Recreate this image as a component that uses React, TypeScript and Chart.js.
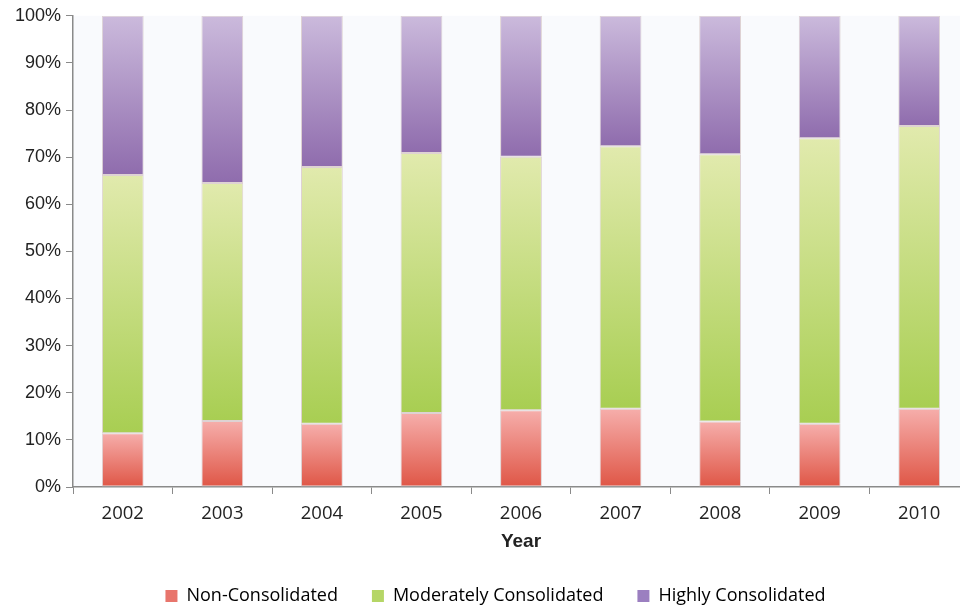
import React, { useEffect, useRef } from "react";
import { Chart, registerables } from "chart.js";

Chart.register(...registerables);

const years = ["2002", "2003", "2004", "2005", "2006", "2007", "2008", "2009", "2010"];
const nonConsolidated = [11.4, 14.0, 13.4, 15.7, 16.3, 16.6, 13.9, 13.4, 16.6];
const moderatelyConsolidated = [54.8, 50.5, 54.5, 55.2, 53.8, 55.7, 56.7, 60.6, 60.0];
const highlyConsolidated = [33.8, 35.5, 32.1, 29.1, 29.9, 27.7, 29.4, 26.0, 23.4];
const seriesNames = ["Non-Consolidated", "Moderately Consolidated", "Highly Consolidated"];
const yTicks = [0, 10, 20, 30, 40, 50, 60, 70, 80, 90, 100];

const allSeries = [nonConsolidated, moderatelyConsolidated, highlyConsolidated];
const gradTop = ["#f6aeab", "#e1eaad", "#cbbadc"];
const gradBottom = ["#df5646", "#a8ce52", "#8f6cad"];
const legendColors = ["#e8756c", "#b5d666", "#9b7fc0"];

function makeBg(si: number) {
  return (ctx: any) => {
    const chart = ctx.chart;
    const area = chart.chartArea;
    const y = chart.scales && chart.scales.y;
    if (!area || !y || ctx.dataIndex === undefined) return legendColors[si];
    const i = ctx.dataIndex;
    let bottom = 0;
    for (let k = 0; k < si; k++) bottom += allSeries[k][i];
    const top = bottom + allSeries[si][i];
    const y0 = y.getPixelForValue(bottom);
    const y1 = y.getPixelForValue(top);
    if (!isFinite(y0) || !isFinite(y1) || y0 === y1) return legendColors[si];
    const g = chart.ctx.createLinearGradient(0, y1, 0, y0);
    g.addColorStop(0, gradTop[si]);
    g.addColorStop(1, gradBottom[si]);
    return g;
  };
}

const plotBg = {
  id: "plotBg",
  beforeDraw(chart: any) {
    const { ctx, chartArea } = chart;
    if (!chartArea) return;
    ctx.save();
    ctx.fillStyle = "#f9fafd";
    ctx.fillRect(chartArea.left, chartArea.top, chartArea.right - chartArea.left, chartArea.bottom - chartArea.top);
    ctx.restore();
  },
};

const legendShift = {
  id: "legendShift",
  afterLayout(chart: any) {
    const lg = chart.legend;
    if (!lg) return;
    lg.left += 11;
    lg.right += 11;
  },
};

export default function App() {
  const ref = useRef<HTMLCanvasElement | null>(null);
  useEffect(() => {
    if (!ref.current) return;
    const chart = new Chart(ref.current, {
      type: "bar",
      data: {
        labels: years,
        datasets: allSeries.map((d, si) => ({
          label: seriesNames[si],
          data: d,
          backgroundColor: makeBg(si),
          borderColor: "rgba(215,200,200,0.8)",
          borderWidth: 1,
          borderSkipped: false,
          barPercentage: 0.42,
          categoryPercentage: 1,
        })),
      },
      options: {
        animation: false,
        responsive: true,
        maintainAspectRatio: false,
        layout: { padding: { left: 0, right: 21, top: 15, bottom: 0 } },
        plugins: {
          tooltip: { enabled: false },
          legend: {
            position: "bottom",
            maxHeight: 56,
            labels: {
              font: { family: "Open Sans", size: 18 },
              color: "#222",
              boxWidth: 12,
              boxHeight: 12,
              padding: 34,
              generateLabels: () =>
                seriesNames.map((n, si) => ({
                  text: n,
                  fillStyle: legendColors[si],
                  strokeStyle: legendColors[si],
                  lineWidth: 0,
                  hidden: false,
                  datasetIndex: si,
                })),
            },
          },
        },
        scales: {
          x: {
            stacked: true,
            border: { display: true, color: "#8a8a8a", width: 1.5 },
            grid: { display: true, drawOnChartArea: false, drawTicks: true, tickLength: 7, color: "#8a8a8a", offset: true },
            ticks: { font: { family: "Open Sans", size: 18.5 }, color: "#222", padding: 9 },
            title: { display: true, text: "Year", font: { family: "Liberation Sans", size: 19, weight: "bold" }, color: "#222", padding: { top: 0, bottom: 0 } },
            afterFit: (s: any) => { s.height = 66; },
          },
          y: {
            stacked: true,
            min: 0,
            max: 100,
            border: { display: true, color: "#8a8a8a", width: 1.5 },
            grid: { display: true, drawOnChartArea: false, drawTicks: true, tickLength: 7, color: "#8a8a8a" },
            afterBuildTicks: (s: any) => { s.ticks = yTicks.map((v) => ({ value: v })); },
            ticks: {
              font: { family: "Liberation Sans", size: 18 },
              color: "#222",
              padding: 5,
              callback: (v: any) => v + "%",
            },
            afterFit: (s: any) => { s.width = 73; },
          },
        },
      },
      plugins: [plotBg, legendShift],
    });
    return () => chart.destroy();
  }, []);
  return (
    <div style={{ position: "fixed", left: 0, top: 0, width: 960, height: 609, overflow: "hidden", background: "#fff" }}>
      <div style={{ position: "relative", width: 990, height: 609 }}>
        <canvas ref={ref} />
      </div>
    </div>
  );
}
